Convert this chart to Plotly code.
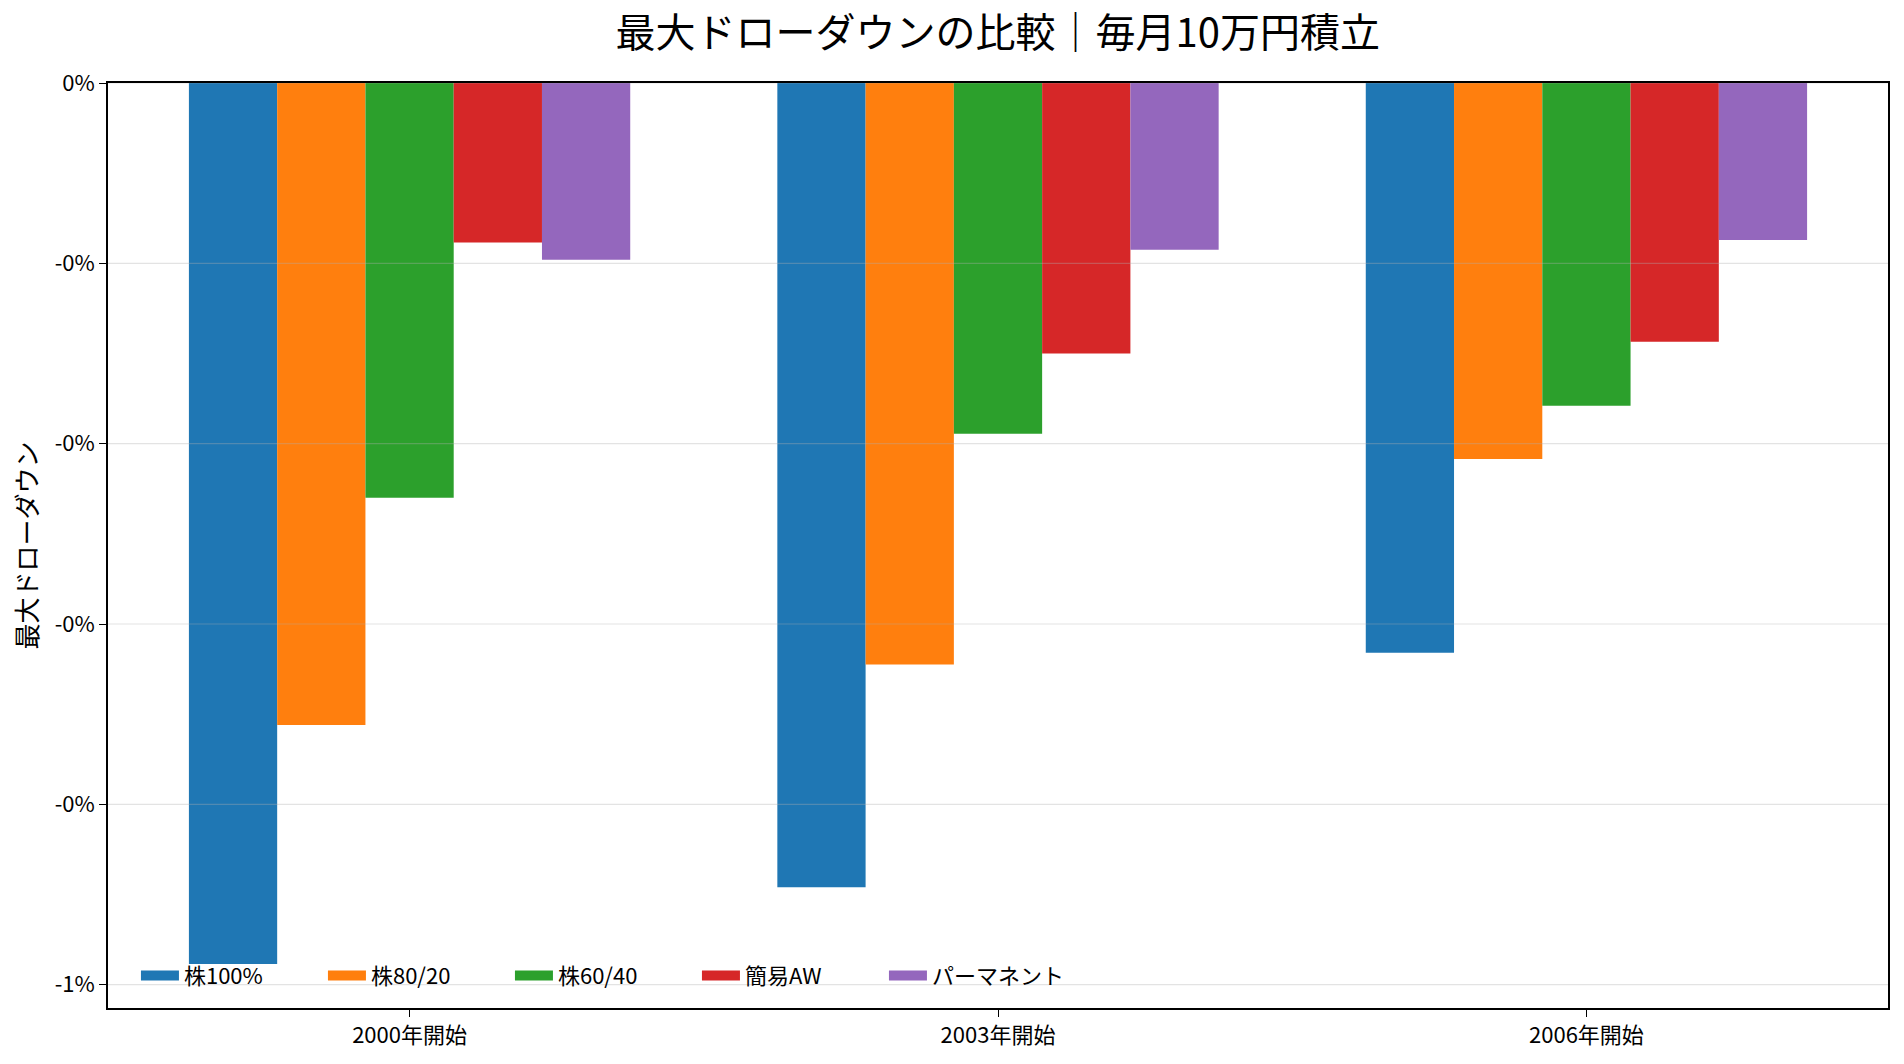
import plotly.graph_objects as go

categories = ["2000年開始", "2003年開始", "2006年開始"]
series_names = ["株100%", "株80/20", "株60/40", "簡易AW", "パーマネント"]
stock100 = [-0.00977, -0.00892, -0.00632]
stock80 = [-0.00712, -0.00645, -0.00417]
stock60 = [-0.00460, -0.00389, -0.00358]
simple_aw = [-0.00177, -0.00300, -0.00287]
permanent = [-0.00196, -0.00185, -0.00174]
series_values = [stock100, stock80, stock60, simple_aw, permanent]
colors = ["#1f77b4", "#ff7f0e", "#2ca02c", "#d62728", "#9467bd"]
y_tickvals = [0, -0.002, -0.004, -0.006, -0.008, -0.010]
y_ticktext = ["0%", "-0%", "-0%", "-0%", "-0%", "-1%"]

FONT = "Noto Sans CJK JP"

fig = go.Figure()
for name, vals, col in zip(series_names, series_values, colors):
    fig.add_trace(go.Bar(x=categories, y=vals, name=name, marker=dict(color=col, line=dict(width=0)),
                         showlegend=False, legendgroup=name))
for name, col in zip(series_names, colors):
    fig.add_trace(go.Scatter(x=[None], y=[None], mode="lines", name=name,
                             line=dict(color=col, width=16), legendgroup=name, showlegend=True))

ymin = min(min(v) for v in series_values) * 1.05

shapes = []
for tv in y_tickvals:
    shapes.append(dict(type="line", xref="paper", x0=0, x1=1, yref="y", y0=tv, y1=tv,
                       line=dict(color="rgba(176,176,176,0.35)", width=1.2), layer="above"))

fig.update_layout(
    width=1904, height=1064,
    margin=dict(l=108, r=16, t=83, b=56),
    paper_bgcolor="white", plot_bgcolor="white",
    font=dict(family=FONT, size=22, color="black"),
    title=dict(text="最大ドローダウンの比較｜毎月10万円積立", x=0.524, xanchor="center", y=0.969, yanchor="middle",
               font=dict(family=FONT, size=40, color="black")),
    barmode="group", bargap=0.25, bargroupgap=0,
    shapes=shapes,
    legend=dict(orientation="h", x=0.0157, xanchor="left", y=0.035, yanchor="middle",
                bgcolor="rgba(0,0,0,0)", borderwidth=0, font=dict(family=FONT, size=22, color="black"),
                entrywidth=134, entrywidthmode="pixels", itemwidth=38, tracegroupgap=0),
    xaxis=dict(type="category", range=[-0.5125, 2.5125], showgrid=False, showline=True, linecolor="black",
               linewidth=1.5, mirror=True, ticks="outside", ticklen=7, tickcolor="black", tickwidth=1,
               tickfont=dict(family=FONT, size=22, color="black"), zeroline=False),
    yaxis=dict(range=[ymin, 0], showgrid=False, showline=True, linecolor="black", linewidth=1.5, mirror=True,
               ticks="outside", ticklen=7, tickcolor="black", tickwidth=1, tickvals=y_tickvals,
               ticktext=y_ticktext, tickfont=dict(family=FONT, size=22, color="black"), zeroline=False,
               title=dict(text="最大ドローダウン", standoff=10, font=dict(family=FONT, size=26, color="black"))),
)

fig.write_html("out.html")
